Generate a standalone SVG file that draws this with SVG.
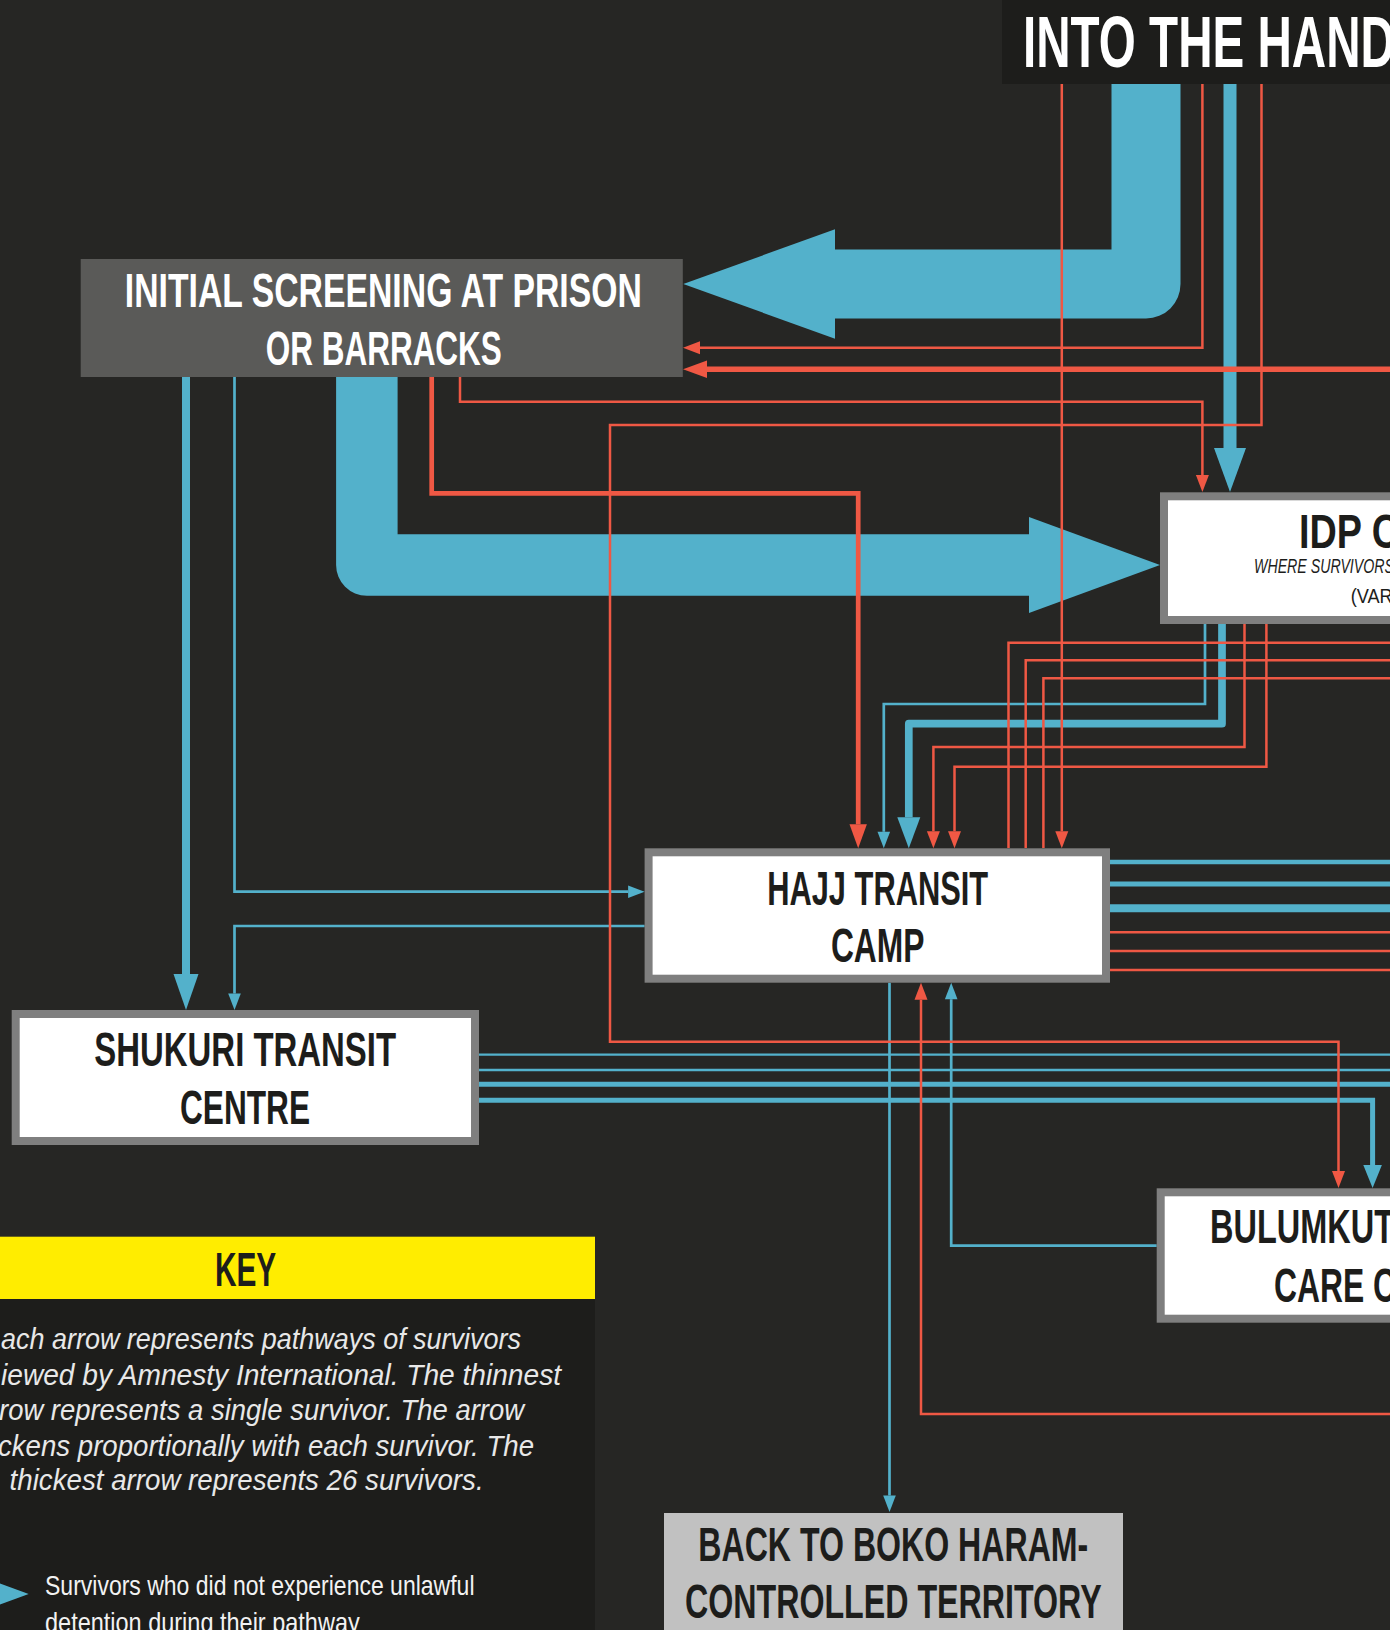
<svg xmlns="http://www.w3.org/2000/svg" width="1390" height="1630" viewBox="0 0 1390 1630">
<style>
.bg{fill:#262624}
.nt{font-family:'Liberation Sans',Arial,sans-serif;font-weight:bold;font-size:47.5px;fill:#1d1d1b}
.wt{fill:#ffffff}
.box{fill:#ffffff;stroke:#7f7f7f;stroke-width:8}
.r{fill:none;stroke:#ef5844;stroke-width:2.5}
.b{fill:none;stroke:#53b1cb;stroke-width:2.7}
.key{font-family:'Liberation Sans',Arial,sans-serif;font-style:italic;font-size:29px;fill:#e8e8e8}
.leg{font-family:'Liberation Sans',Arial,sans-serif;font-size:28px;fill:#f2f2f2}
.sub{font-family:'Liberation Sans',Arial,sans-serif;font-size:20px;fill:#1d1d1b}
</style>
<defs>
<marker id="r1" markerUnits="userSpaceOnUse" orient="auto" markerWidth="1" markerHeight="1" style="overflow:visible"><path d="M0,-6.5L17,0L0,6.5z" fill="#ef5844"/></marker>
<marker id="r2" markerUnits="userSpaceOnUse" orient="auto" markerWidth="1" markerHeight="1" style="overflow:visible"><path d="M0,-8.7L24,0L0,8.7z" fill="#ef5844"/></marker>
<marker id="b1" markerUnits="userSpaceOnUse" orient="auto" markerWidth="1" markerHeight="1" style="overflow:visible"><path d="M0,-6.3L16.5,0L0,6.3z" fill="#53b1cb"/></marker>
<marker id="b2" markerUnits="userSpaceOnUse" orient="auto" markerWidth="1" markerHeight="1" style="overflow:visible"><path d="M0,-9.3L23,0L0,9.3z" fill="#53b1cb"/></marker>
<marker id="b3" markerUnits="userSpaceOnUse" orient="auto" markerWidth="1" markerHeight="1" style="overflow:visible"><path d="M0,-11.5L31,0L0,11.5z" fill="#53b1cb"/></marker>
<marker id="b5" markerUnits="userSpaceOnUse" orient="auto" markerWidth="1" markerHeight="1" style="overflow:visible"><path d="M0,-12.5L36,0L0,12.5z" fill="#53b1cb"/></marker>
<marker id="b4" markerUnits="userSpaceOnUse" orient="auto" markerWidth="1" markerHeight="1" style="overflow:visible"><path d="M0,-16L44,0L0,16z" fill="#53b1cb"/></marker>
</defs>
<rect class="bg" x="0" y="0" width="1390" height="1630"/>

<g id="connectors">
  <!-- big blue arrows -->
  <path d="M1146,84V284H835" fill="none" stroke="#53b1cb" stroke-width="69" stroke-linejoin="round"/>
  <polygon points="835,229.3 683.3,284 835,338.7" fill="#53b1cb"/>
  <path d="M366.85,377V565H1029" fill="none" stroke="#53b1cb" stroke-width="61.5" stroke-linejoin="round"/>
  <polygon points="1029,517 1160,565 1029,613" fill="#53b1cb"/>
  <!-- blue lines -->
  <path class="b" d="M1230,84V448" style="stroke-width:13" marker-end="url(#b4)"/>
  <path class="b" d="M186,377V974" style="stroke-width:8" marker-end="url(#b5)"/>
  <path class="b" d="M234.5,377V891.7H628.1" marker-end="url(#b1)"/>
  <path class="b" d="M644.6,926H234.5V993.5" marker-end="url(#b1)"/>
  <path class="b" d="M1205,624V704H883.8V831.8" marker-end="url(#b1)"/>
  <path class="b" d="M1222,624V723.7H908.8V817.3" style="stroke-width:7.7" stroke-linejoin="round" marker-end="url(#b3)"/>
  <path class="b" d="M1110,862H1390" style="stroke-width:4.7"/>
  <path class="b" d="M1110,884H1390" style="stroke-width:5"/>
  <path class="b" d="M1110,908.3H1390" style="stroke-width:8"/>
  <path class="b" d="M479,1054.7H1390" style="stroke-width:2.2"/>
  <path class="b" d="M479,1070H1390" style="stroke-width:2.6"/>
  <path class="b" d="M479,1084.3H1390" style="stroke-width:5"/>
  <path class="b" d="M479,1100.3H1372.6V1165" style="stroke-width:5" marker-end="url(#b2)"/>
  <path class="b" d="M889.5,982.7V1495.5" marker-end="url(#b1)"/>
  <path class="b" d="M1156.7,1245.7H951.2V999.2" marker-end="url(#b1)"/>
  <!-- red lines -->
  <path class="r" d="M1061.8,84V831.3" marker-end="url(#r1)"/>
  <path class="r" d="M1202.4,84V347.7H700" marker-end="url(#r1)"/>
  <path class="r" d="M1390,369.3H707" style="stroke-width:5.5" marker-end="url(#r2)"/>
  <path class="r" d="M460,377V401.7H1202.4V475" marker-end="url(#r1)"/>
  <path class="r" d="M1261.5,84V425H610V1041.7H1338.5V1171" marker-end="url(#r1)"/>
  <path class="r" d="M431.7,377V493.3H858.2V824.3" style="stroke-width:4.7" marker-end="url(#r2)"/>
  <path class="r" d="M1244.5,624V747H933.4V831.3" marker-end="url(#r1)"/>
  <path class="r" d="M1266.4,624V766.7H954.5V831.3" marker-end="url(#r1)"/>
  <path class="r" d="M1008.5,848V642.7H1390"/>
  <path class="r" d="M1025.7,848V660.3H1390"/>
  <path class="r" d="M1043.4,848V678.3H1390"/>
  <path class="r" d="M1110,932.3H1390"/>
  <path class="r" d="M1110,951H1390"/>
  <path class="r" d="M1110,970H1390"/>
  <path class="r" d="M1390,1414H921V999.7" marker-end="url(#r1)"/>
</g>

<g id="title">
  <rect x="1002" y="0" width="400" height="84" fill="#1d1d1b"/>
  <text x="1023" y="67" class="nt wt" style="font-size:72.6px" textLength="372" lengthAdjust="spacingAndGlyphs">INTO THE HAND</text>
</g>

<g id="node-initial-screening">
  <rect x="80.7" y="259" width="602.1" height="118" fill="#5a5a58"/>
  <text x="383.3" y="307" class="nt wt" style="font-size:49px" text-anchor="middle" textLength="517" lengthAdjust="spacingAndGlyphs">INITIAL SCREENING AT PRISON</text>
  <text x="383.8" y="365" class="nt wt" style="font-size:49px" text-anchor="middle" textLength="236" lengthAdjust="spacingAndGlyphs">OR BARRACKS</text>
</g>

<g id="node-idp">
  <rect class="box" x="1164" y="496.3" width="260" height="123.7"/>
  <text x="1299" y="547.7" class="nt" style="font-size:48.5px" textLength="100" lengthAdjust="spacingAndGlyphs">IDP C</text>
  <text x="1254" y="573" class="sub" style="font-style:italic" textLength="140" lengthAdjust="spacingAndGlyphs">WHERE SURVIVORS</text>
  <text x="1350.7" y="603" class="sub" textLength="42" lengthAdjust="spacingAndGlyphs">(VAR</text>
</g>

<g id="node-hajj">
  <rect class="box" x="648.6" y="852.3" width="457.4" height="126.4"/>
  <text x="877.7" y="905" class="nt" text-anchor="middle" textLength="221" lengthAdjust="spacingAndGlyphs">HAJJ TRANSIT</text>
  <text x="877.7" y="961.7" class="nt" text-anchor="middle" textLength="93.5" lengthAdjust="spacingAndGlyphs">CAMP</text>
</g>

<g id="node-shukuri">
  <rect class="box" x="15.7" y="1014" width="459.3" height="127"/>
  <text x="245.2" y="1066" class="nt" text-anchor="middle" textLength="301.7" lengthAdjust="spacingAndGlyphs">SHUKURI TRANSIT</text>
  <text x="245" y="1124.3" class="nt" text-anchor="middle" textLength="130" lengthAdjust="spacingAndGlyphs">CENTRE</text>
</g>

<g id="node-bulumkuti">
  <rect class="box" x="1160.7" y="1192.3" width="260" height="126.4"/>
  <text x="1210" y="1243.3" class="nt" textLength="184" lengthAdjust="spacingAndGlyphs">BULUMKUT</text>
  <text x="1274" y="1301.7" class="nt" textLength="122" lengthAdjust="spacingAndGlyphs">CARE C</text>
</g>

<g id="node-back">
  <rect x="664" y="1513" width="459" height="130" fill="#c1c1c1"/>
  <text x="893.3" y="1561" class="nt" text-anchor="middle" textLength="390" lengthAdjust="spacingAndGlyphs">BACK TO BOKO HARAM-</text>
  <text x="893.3" y="1618.3" class="nt" text-anchor="middle" textLength="416.7" lengthAdjust="spacingAndGlyphs">CONTROLLED TERRITORY</text>
</g>

<g id="key">
  <rect x="0" y="1299" width="595" height="331" fill="#1d1d1b"/>
  <rect x="0" y="1236.7" width="595" height="62.3" fill="#ffed00"/>
  <text x="245.6" y="1286" class="nt" text-anchor="middle" textLength="61.3" lengthAdjust="spacingAndGlyphs">KEY</text>
  <text x="1" y="1349.3" class="key" textLength="520" lengthAdjust="spacingAndGlyphs">ach arrow represents pathways of survivors</text>
  <text x="1" y="1385" class="key" textLength="560" lengthAdjust="spacingAndGlyphs">iewed by Amnesty International. The thinnest</text>
  <text x="-1" y="1420" class="key" textLength="525" lengthAdjust="spacingAndGlyphs">row represents a single survivor. The arrow</text>
  <text x="-2" y="1456" class="key" textLength="536" lengthAdjust="spacingAndGlyphs">ckens proportionally with each survivor. The</text>
  <text x="9.6" y="1490" class="key" textLength="474" lengthAdjust="spacingAndGlyphs">thickest arrow represents 26 survivors.</text>
  <polygon points="-10,1580 28.7,1594 -10,1608" fill="#53b1cb"/>
  <text x="45" y="1595" class="leg" textLength="429.5" lengthAdjust="spacingAndGlyphs">Survivors who did not experience unlawful</text>
  <text x="45" y="1632" class="leg" textLength="314.7" lengthAdjust="spacingAndGlyphs">detention during their pathway</text>
</g>
</svg>
